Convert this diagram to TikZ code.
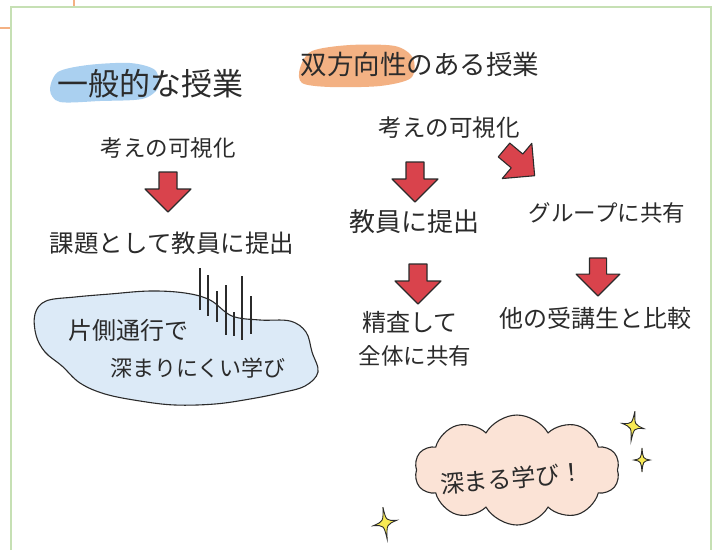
\documentclass[tikz,border=0pt]{standalone}
\usepackage{fontspec}
\setmainfont{Noto Sans CJK JP}
\usetikzlibrary{shapes.symbols}
\definecolor{frameg}{HTML}{C6E0B4}
\definecolor{frameo}{HTML}{F4B183}
\definecolor{ink}{HTML}{2B2B2B}
\definecolor{arrowred}{HTML}{D9434C}
\definecolor{hlblue}{HTML}{9CC8EE}
\definecolor{hlorange}{HTML}{F2A46E}
\definecolor{cloudblue}{HTML}{DCEAF7}
\definecolor{cloudpeach}{HTML}{FBE3D6}
\definecolor{sparkle}{HTML}{F8EA55}
\tikzset{
  txt/.style={font=\fontsize{#1}{#1}\selectfont, text=ink, inner sep=0pt},
  redarrow/.pic={\draw[fill=arrowred, draw=ink, line width=1.1pt, line join=round]
     (-9,0) -- (9,0) -- (9,17) -- (23,17) -- (0,40) -- (-23,17) -- (-9,17) -- cycle;},
  spark/.pic={\draw[fill=sparkle, draw=ink, line width=0.9pt]
     (0,-1) .. controls (0.12,-0.12) .. (1,0) .. controls (0.12,0.12) .. (0,1)
     .. controls (-0.12,0.12) .. (-1,0) .. controls (-0.12,-0.12) .. cycle;},
  hatch/.style={draw=ink, line width=1.1pt}
}
\begin{document}
\begin{tikzpicture}[x=1pt,y=-1pt]
\useasboundingbox (0,0) rectangle (717,550);
\fill[white] (0,0) rectangle (717,550);
% frame
\draw[frameo, line width=2pt] (74,0) -- (74,7);
\draw[frameo, line width=2pt] (0,28) -- (10,28);
\draw[frameg, line width=2.2pt] (11,550) -- (11,7) -- (711,7) -- (711,550);

% highlights
\fill[hlblue, opacity=.85] plot[smooth cycle] coordinates {(50,90)(58,72)(88,65)(130,63)(155,70)(158,88)(142,99)(100,101)(60,102)};
\fill[hlorange, opacity=.85] plot[smooth cycle] coordinates {(300,68)(312,51)(350,45)(395,46)(413,58)(411,78)(380,86)(330,87)(302,83)};

% titles
\node[txt=31] (t1) at (150,84) {一般的な授業};
\node[txt=26.5] (t2) at (420,64) {双方向性のある授業};

% left column
\node[txt=22.5] (l1) at (168,148) {考えの可視化};
\pic at (168,172) {redarrow};
\node[txt=24.5] (l2) at (172,243) {課題として教員に提出};

% left cloud
\filldraw[fill=cloudblue, draw=ink, line width=1.1pt] plot[smooth cycle, tension=0.6] coordinates {(35,314)(46,301)(75,297)(110,294)(150,291)(185,293)(210,300)(232,316)(260,320)(290,321)(306,332)(312,352)(318,372)(305,386)(280,393)(250,399)(215,404)(175,405)(140,401)(105,394)(80,383)(62,366)(45,352)(36,335)};
\node[txt=24] (c1a) at (128,330) {片側通行で};
\node[txt=22] (c1b) at (198,368) {深まりにくい学び};
% hatching
\draw[hatch] (200,268) -- (200,310);
\draw[hatch] (208,275) -- (208,316);
\draw[hatch] (217,291) -- (217,322);
\draw[hatch] (226,285) -- (226,335);
\draw[hatch] (234,312) -- (234,336);
\draw[hatch] (242,276) -- (242,340);
\draw[hatch] (251,296) -- (251,334);

% right column
\node[txt=23.5] (r1) at (449,128) {考えの可視化};
\pic at (415,162) {redarrow};
\pic[rotate=50] at (504,150) {redarrow};
\node[txt=26] (r2) at (414,222) {教員に提出};
\node[txt=22.5] (r3) at (607,213) {グループに共有};
\pic at (418,264) {redarrow};
\pic[scale=0.95] at (598,258) {redarrow};
\node[txt=24] (r4) at (410,322) {精査して};
\node[txt=22.5] (r5) at (415,356) {全体に共有};
\node[txt=24] (r6) at (595,318) {他の受講生と比較};

% right cloud
\node[cloud, cloud puffs=10, cloud puff arc=120, aspect=2.1, fill=cloudpeach, draw=ink, line width=1.1pt, minimum width=205pt, minimum height=110pt] (c2) at (517,470) {};
\node[txt=24, rotate=5] (c2t) at (512,478) {深まる学び！};

% sparkles
\pic[xscale=11, yscale=15, rotate=-10] at (633,426) {spark};
\pic[xscale=8, yscale=12] at (642,460) {spark};
\pic[xscale=12, yscale=16, rotate=10] at (385,523) {spark};
\end{tikzpicture}
\end{document}
